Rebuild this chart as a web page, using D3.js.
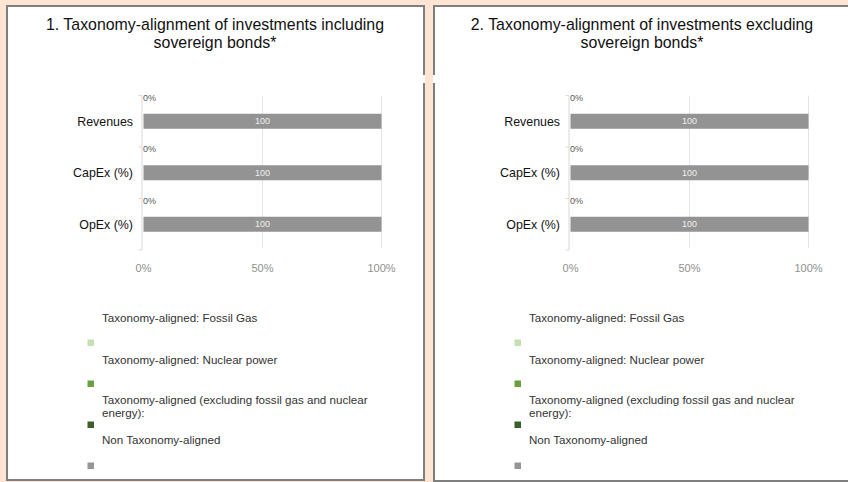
<!DOCTYPE html>
<html>
<head>
<meta charset="utf-8">
<script src="https://cdn.jsdelivr.net/npm/d3@7"></script>
<style>
  body { margin: 0; background: #fde4d3; }
  svg { display: block; font-family: "Liberation Sans", Arial, sans-serif; }
</style>
</head>
<body>
<svg id="chart"></svg>
<script>
// ---- data ----
var panelTitles = [
  ["1. Taxonomy-alignment of investments including", "sovereign bonds*"],
  ["2. Taxonomy-alignment of investments excluding", "sovereign bonds*"]
];
var categories = ["Revenues", "CapEx (%)", "OpEx (%)"];
var seriesNames = ["Taxonomy-aligned: Fossil Gas", "Taxonomy-aligned: Nuclear power",
  "Taxonomy-aligned (excluding fossil gas and nuclear energy):", "Non Taxonomy-aligned"];
var seriesColors = ["#c5e0b4", "#6a9f42", "#3b5e2b", "#969696"];
// values per panel, one array per series
var fossilGas1 = [0, 0, 0];
var nuclear1 = [0, 0, 0];
var alignedExcl1 = [0, 0, 0];
var nonAligned1 = [100, 100, 100];
var fossilGas2 = [0, 0, 0];
var nuclear2 = [0, 0, 0];
var alignedExcl2 = [0, 0, 0];
var nonAligned2 = [100, 100, 100];
var xTicks = [0, 50, 100];

var panelSeries = [
  [fossilGas1, nuclear1, alignedExcl1, nonAligned1],
  [fossilGas2, nuclear2, alignedExcl2, nonAligned2]
];

var screen = {width: 848, height: 482};
var panelOffset = [0, 427];
var plot = {left: 143.5, right: 381.5, top: 95.5, bottom: 250};
// legend rows: text centre of first line and swatch top
var legendLayout = [
  {text: 318, swatch: 339.5},
  {text: 359.5, swatch: 380.5},
  {text: 399.5, swatch: 421.5},
  {text: 440, swatch: 462.5}
];

var svg = d3.select("#chart")
  .attr("width", screen.width)
  .attr("height", screen.height);

svg.append("rect").attr("width", screen.width).attr("height", screen.height).attr("fill", "#fde4d3");

var xScale = d3.scaleLinear().domain([0, 100]).range([plot.left, plot.right]);
var yScale = d3.scaleBand().domain(categories).range([plot.top, plot.bottom]).padding(0);
var barH = 15;

// wrap a text into lines no wider than maxW
var wrap = function(textSel, str, maxW)
{
  var words = str.split(" "), line = [], lines = [];
  words.forEach(function(w)
  {
    line.push(w);
    textSel.text(line.join(" "));
    if (textSel.node().getComputedTextLength() > maxW && line.length > 1)
    {
      line.pop();
      lines.push(line.join(" "));
      line = [w];
    }
  });
  lines.push(line.join(" "));
  textSel.text(null);
  return lines;
};

var drawPanel = function(p)
{
  var g = svg.append("g").attr("transform", "translate(" + panelOffset[p] + ",0)");

  g.append("rect")
    .attr("x", 7).attr("y", 6).attr("width", 417).attr("height", 474 + p)
    .attr("fill", "#ffffff").attr("stroke", "#7f7f7f").attr("stroke-width", 2);

  // title
  g.append("text")
    .attr("text-anchor", "middle").attr("font-size", 15.9).attr("fill", "#111111")
    .selectAll("tspan").data(panelTitles[p]).enter().append("tspan")
    .attr("x", 215).attr("y", function(d, i) { return 29.5 + i * 18.5; })
    .text(function(d) { return d; });

  // gridlines
  g.selectAll(".grid").data(xTicks.slice(1)).enter().append("line")
    .attr("x1", function(d) { return xScale(d); }).attr("x2", function(d) { return xScale(d); })
    .attr("y1", plot.top).attr("y2", plot.bottom - 2)
    .attr("stroke", "#e4e4e4").attr("stroke-width", 1);

  // y axis (category boundaries)
  g.append("line")
    .attr("x1", plot.left - 1.5).attr("x2", plot.left - 1.5)
    .attr("y1", plot.top).attr("y2", plot.bottom)
    .attr("stroke", "#d9d9d9");
  var bounds = categories.map(function(c) { return yScale(c); }).concat([plot.bottom]);
  g.selectAll(".ytick").data(bounds).enter().append("line")
    .attr("x1", plot.left - 5).attr("x2", plot.left - 1.5)
    .attr("y1", function(d) { return d; }).attr("y2", function(d) { return d; })
    .attr("stroke", "#d9d9d9");

  // stacked bars
  var rows = categories.map(function(c, i)
  {
    var r = {cat: c};
    panelSeries[p].forEach(function(s, k) { r["s" + k] = s[i]; });
    return r;
  });
  var stack = d3.stack().keys(["s0", "s1", "s2", "s3"])(rows);
  stack.forEach(function(layer, k)
  {
    g.selectAll(".bar" + k).data(layer).enter().append("rect")
      .attr("x", function(d) { return xScale(d[0]); })
      .attr("width", function(d) { return xScale(d[1]) - xScale(d[0]); })
      .attr("y", function(d) { return yScale(d.data.cat) + yScale.bandwidth() / 2 - barH / 2; })
      .attr("height", barH)
      .attr("fill", k == 3 ? "#939393" : seriesColors[k]);
  });
  // value labels on the non-aligned bars
  g.selectAll(".vlab").data(stack[3]).enter().append("text")
    .attr("x", function(d) { return xScale((d[0] + d[1]) / 2); })
    .attr("y", function(d) { return yScale(d.data.cat) + yScale.bandwidth() / 2 + 3.2; })
    .attr("text-anchor", "middle").attr("font-size", 9).attr("fill", "#efefef")
    .text(function(d) { return d[1] - d[0]; });
  // "0%" labels of the aligned share
  g.selectAll(".zlab").data(rows).enter().append("text")
    .attr("x", plot.left - 0.5)
    .attr("y", function(d) { return yScale(d.cat) + 5; })
    .attr("font-size", 9).attr("fill", "#595959")
    .text(function(d) { return (d.s0 + d.s1 + d.s2) + "%"; });

  // category labels
  g.selectAll(".clab").data(categories).enter().append("text")
    .attr("x", 133).attr("y", function(d) { return yScale(d) + yScale.bandwidth() / 2 + 4.4; })
    .attr("text-anchor", "end").attr("font-size", 12.4).attr("fill", "#111111")
    .text(function(d) { return d; });

  // x axis labels
  g.selectAll(".xlab").data(xTicks).enter().append("text")
    .attr("x", function(d) { return xScale(d); }).attr("y", 271.5)
    .attr("text-anchor", "middle").attr("font-size", 11).attr("fill", "#8f8f8f")
    .text(function(d) { return d + "%"; });

  // legend
  seriesNames.forEach(function(name, k)
  {
    var t = g.append("text").attr("font-size", 11.6).attr("fill", "#333333").attr("x", 102);
    var lines = wrap(t, name, 285);
    lines.forEach(function(l, i)
    {
      t.append("tspan").attr("x", 102).attr("y", legendLayout[k].text + i * 13 + 4.1).text(l);
    });
    g.append("rect")
      .attr("x", 87.5).attr("y", legendLayout[k].swatch)
      .attr("width", 6.5).attr("height", 6.5)
      .attr("fill", seriesColors[k]);
  });
};

panelTitles.forEach(function(t, p) { drawPanel(p); });

// small breaks in the inner borders
svg.append("rect").attr("x", 423).attr("y", 75).attr("width", 2).attr("height", 8).attr("fill", "#ffffff");
svg.append("rect").attr("x", 433).attr("y", 75).attr("width", 2).attr("height", 8).attr("fill", "#ffffff");
</script>
</body>
</html>
